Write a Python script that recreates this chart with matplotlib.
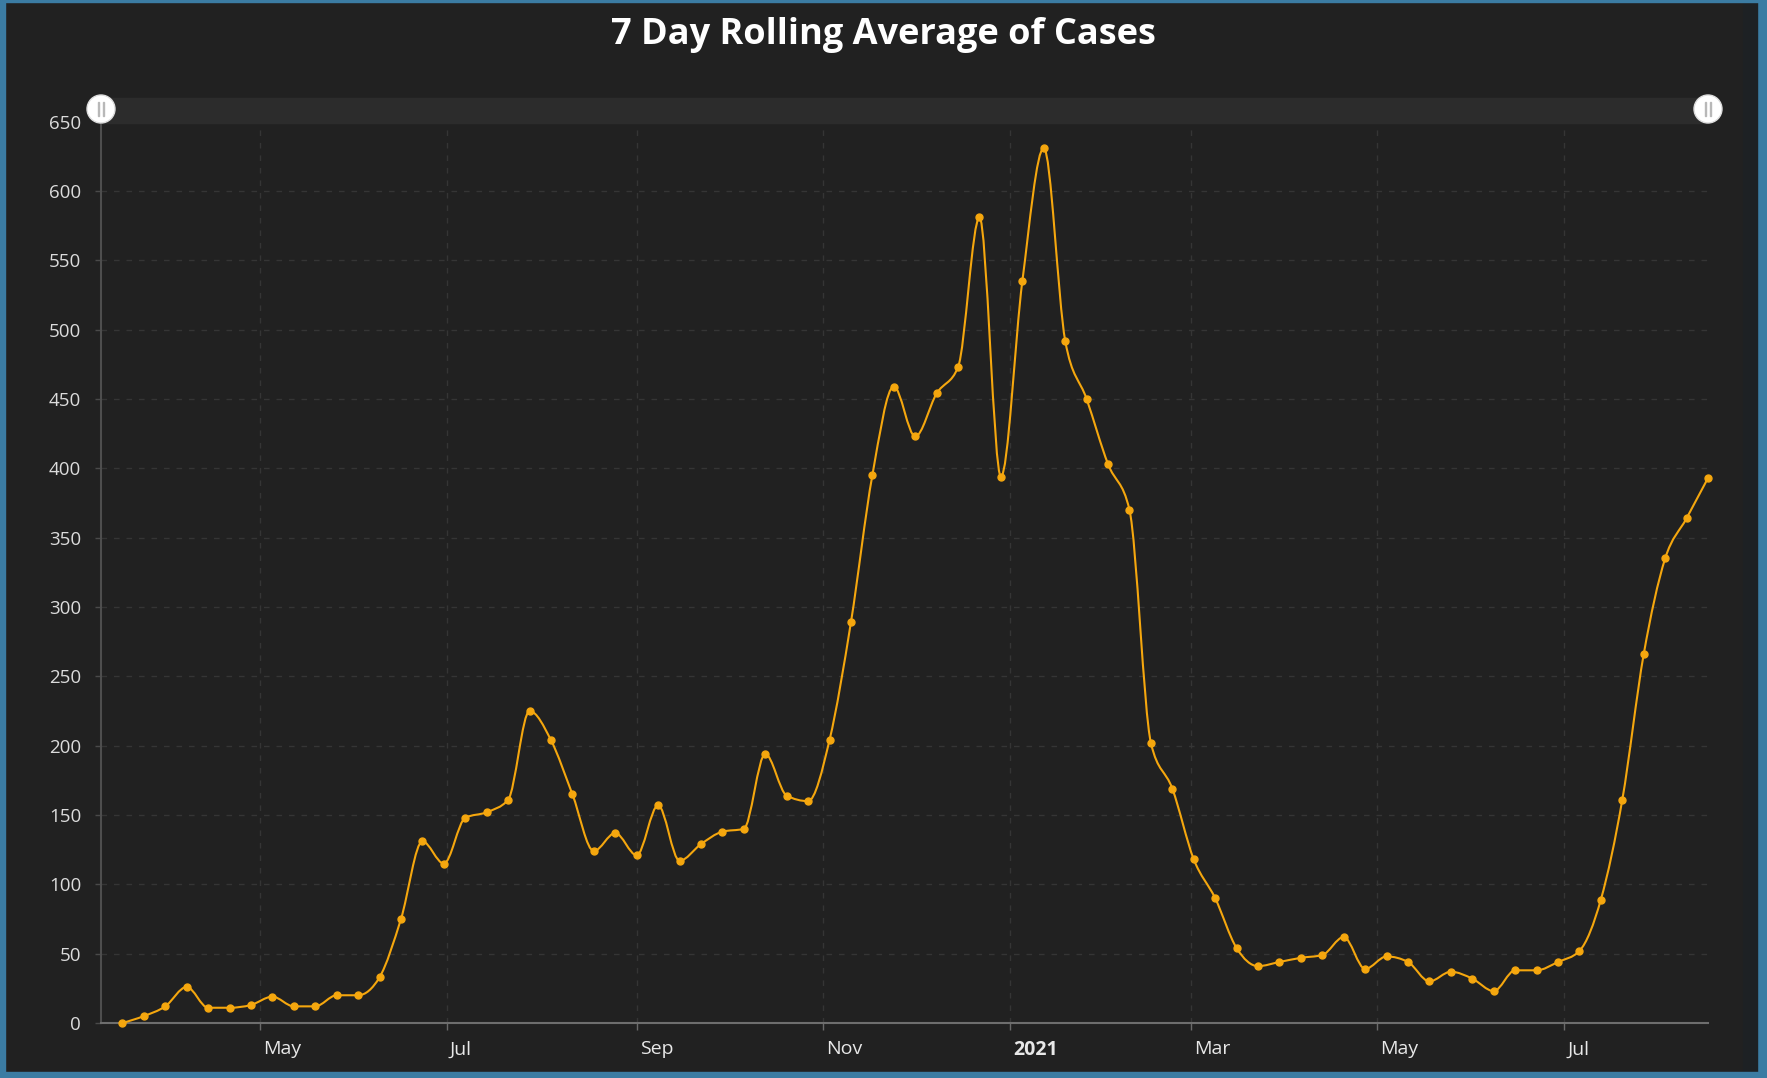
import matplotlib
matplotlib.use("Agg")
import matplotlib.pyplot as plt
import matplotlib.dates as mdates
from matplotlib.path import Path
from matplotlib.patches import PathPatch, Rectangle, Ellipse
from matplotlib.transforms import ScaledTranslation
import numpy as np
import pandas as pd

# ---------------- data ----------------
start_date = "2020-03-17"
cases_7day = [0, 5, 12, 26, 11, 11, 13, 19, 12, 12,
              20, 20, 33, 75, 131, 115, 148, 152, 161, 225,
              204, 165, 124, 137, 121, 157, 117, 129, 138, 140,
              194, 164, 160, 204, 289, 395, 459, 423, 454, 473,
              581, 394, 535, 631, 492, 450, 403, 370, 202, 169,
              118, 90, 54, 41, 44, 47, 49, 62, 39, 48,
              44, 30, 37, 32, 23, 38, 38, 44, 52, 89,
              161, 266, 335, 364, 393]
tick_dates = ["2020-05-01", "2020-07-01", "2020-09-01", "2020-11-01",
              "2021-01-01", "2021-03-01", "2021-05-01", "2021-07-01"]
tick_labels = ["May", "Jul", "Sep", "Nov", "2021", "Mar", "May", "Jul"]
y_ticks = list(range(0, 651, 50))
title = "7 Day Rolling Average of Cases"

dates = pd.date_range(start_date, periods=len(cases_7day), freq="7D")

# ---------------- style ----------------
BG = "#212121"
ORANGE = "#f5a70e"
GRID = "#353535"
BLUE = "#3b7ca3"
W, H = 1767, 1078

plt.rcParams["font.family"] = ["Open Sans", "DejaVu Sans"]

fig = plt.figure(figsize=(W / 100, H / 100), dpi=100, facecolor=BG)

# frame border
fig.add_artist(Rectangle((0, 0), 5 / W, 1, transform=fig.transFigure, color=BLUE, zorder=0))
fig.add_artist(Rectangle((1 - 10 / W, 0), 10 / W, 1, transform=fig.transFigure, color=BLUE, zorder=0))
fig.add_artist(Rectangle((1 - 24 / W, 6 / H), 14 / W, 1 - 8 / H, transform=fig.transFigure, color="#1d2124", zorder=0))
fig.add_artist(Rectangle((0, 0), 1, 6 / H, transform=fig.transFigure, color=BLUE, zorder=0))
fig.add_artist(Rectangle((0, 1 - 2 / H), 1, 2 / H, transform=fig.transFigure, color=BLUE, zorder=0))

ax_left, ax_right, ax_top, ax_bottom = 101, 1708, 121.7, 1023
ax = fig.add_axes([ax_left / W, 1 - ax_bottom / H, (ax_right - ax_left) / W, (ax_bottom - ax_top) / H])
ax.set_facecolor(BG)

x = mdates.date2num(dates.to_pydatetime())
y = np.asarray(cases_7day, dtype=float)


def monotone_path(x, y):
    n = len(x)
    h = np.diff(x)
    s = np.diff(y) / h
    t = np.zeros(n)
    for i in range(1, n - 1):
        h0, h1 = h[i - 1], h[i]
        s0, s1 = s[i - 1], s[i]
        p = (s0 * h1 + s1 * h0) / (h0 + h1)
        sg0 = -1 if s0 < 0 else 1
        sg1 = -1 if s1 < 0 else 1
        t[i] = (sg0 + sg1) * min(abs(s0), abs(s1), 0.5 * abs(p))
    t[0] = (3 * s[0] - t[1]) / 2
    t[-1] = (3 * s[-1] - t[-2]) / 2
    verts = [(x[0], y[0])]
    codes = [Path.MOVETO]
    for i in range(n - 1):
        dx = h[i] / 3
        verts += [(x[i] + dx, y[i] + dx * t[i]),
                  (x[i + 1] - dx, y[i + 1] - dx * t[i + 1]),
                  (x[i + 1], y[i + 1])]
        codes += [Path.CURVE4] * 3
    return Path(verts, codes)


ax.add_patch(PathPatch(monotone_path(x, y), facecolor="none", edgecolor=ORANGE,
                       lw=1.5, zorder=3, clip_on=False))
ax.plot(dates, y, "o", color=ORANGE, ms=5, mec=ORANGE, zorder=4, clip_on=False)

left_lim = mdates.date2num(pd.Timestamp("2020-03-10").to_pydatetime())
ax.set_xlim(left_lim, x[-1])
ax.set_ylim(0, 650)

tick_x = [mdates.date2num(pd.Timestamp(d).to_pydatetime()) for d in tick_dates]
ax.set_xticks(tick_x)
ax.set_xticklabels(tick_labels)
ax.set_yticks(y_ticks)
ax.set_yticklabels([str(v) for v in y_ticks])

ax.tick_params(axis="x", colors="#6a6a6a", length=5, width=1, pad=7.5,
               labelcolor="#e8e8e8", labelsize=14)
ax.tick_params(axis="y", colors="#4a4a4a", length=4.3, width=1, pad=10,
               labelcolor="#dcdcdc", labelsize=13.5)
off = ScaledTranslation(3 / 100, 0, fig.dpi_scale_trans)
for lab in ax.get_xticklabels():
    lab.set_ha("left")
    lab.set_transform(lab.get_transform() + off)
    if lab.get_text() == "2021":
        lab.set_fontweight("bold")

ax.grid(True, color=GRID, linestyle=(0, (4, 5)), linewidth=1)
ax.set_axisbelow(True)
for sp in ["top", "right"]:
    ax.spines[sp].set_visible(False)
ax.spines["left"].set_color("#4e4e4e")
ax.spines["left"].set_linewidth(1.5)
ax.spines["bottom"].set_color("#6e6e6e")
ax.spines["bottom"].set_linewidth(1.5)

# scrollbar
fig.add_artist(Rectangle((ax_left / W, 1 - 123 / H), (ax_right - ax_left) / W, 25 / H,
                         transform=fig.transFigure, color="#2c2c2c", zorder=1))
r = 14
for cx in (ax_left, ax_right):
    fig.add_artist(Ellipse((cx / W, 1 - 109 / H), 2 * r / W, 2 * r / H,
                           transform=fig.transFigure, facecolor="white", edgecolor="#dddddd", zorder=5))
    for dxp in (-2.5, 2.5):
        fig.add_artist(Rectangle(((cx + dxp - 0.8) / W, 1 - 116 / H), 1.6 / W, 14 / H,
                                 transform=fig.transFigure, color="#b8b8b8", zorder=6))

fig.text(883 / W, 1 - 35 / H, title, ha="center", va="center", fontsize=26,
         fontweight="bold", color="white")

fig.savefig("out.png", dpi=100, facecolor=BG)
